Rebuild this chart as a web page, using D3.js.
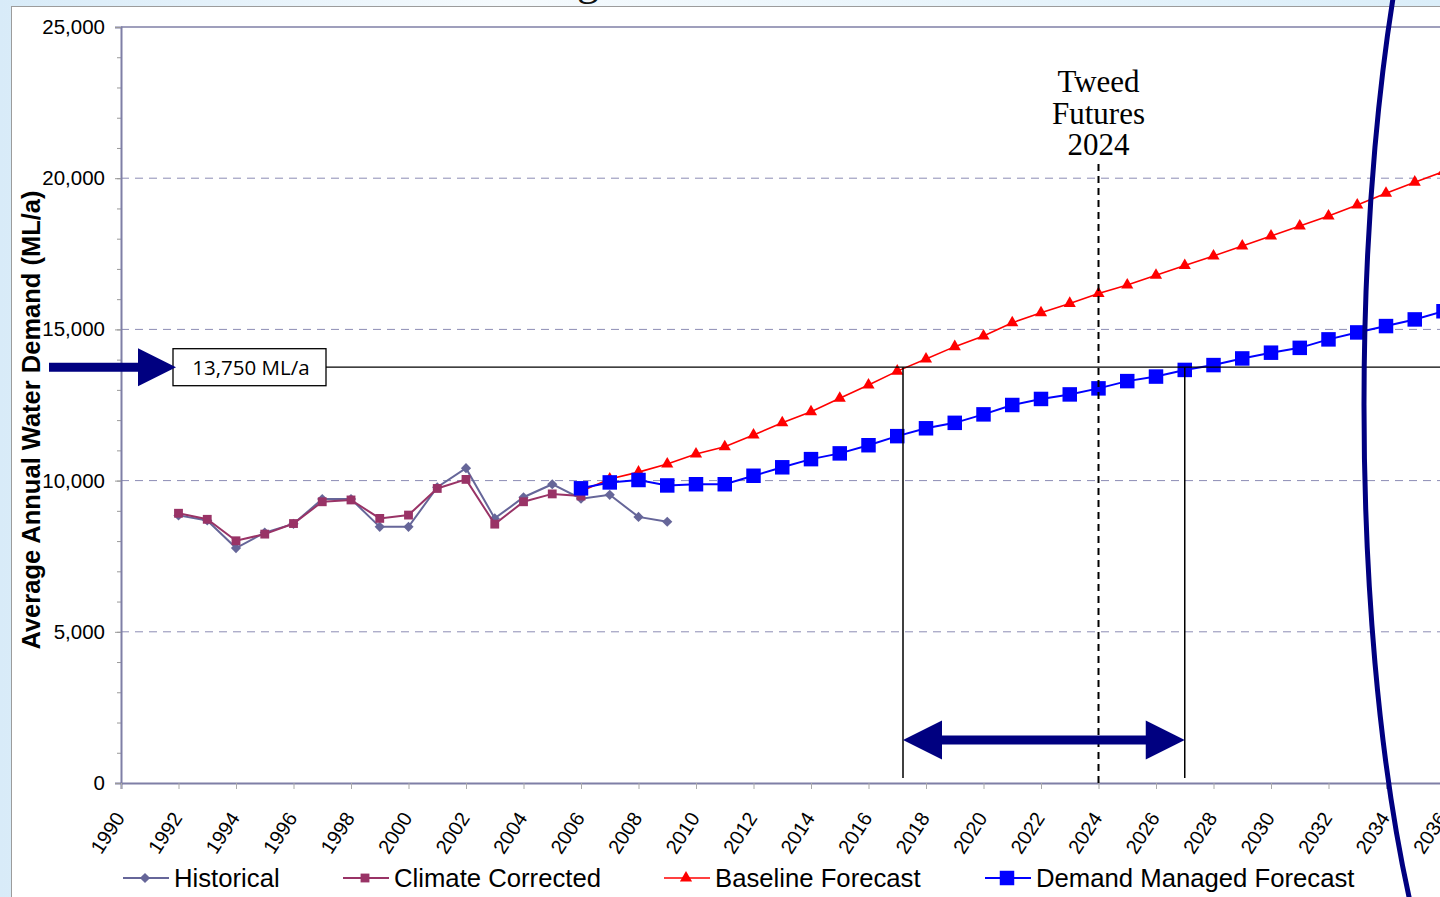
<!DOCTYPE html>
<html>
<head>
<meta charset="utf-8">
<script src="https://cdn.jsdelivr.net/npm/d3@7"></script>
<style>
  html, body { margin: 0; padding: 0; overflow: hidden; background: #fff; }
  #chart { width: 1440px; height: 897px; }
</style>
</head>
<body>
<div id="chart"></div>
<script>
// Values (ML/a)
const histYears = d3.range(1992, 2010);
const historical = [8850, 8680, 7770, 8280, 8570, 9390, 9390, 8470, 8470, 9780,
  10410, 8750, 9450, 9880, 9400, 9530, 8800, 8640];

const climateYears = d3.range(1992, 2007);
const climateCorrected = [8920, 8720, 8010, 8230, 8580, 9300, 9360, 8750, 8860, 9740,
  10040, 8560, 9300, 9560, 9490];

const forecastYears = d3.range(2006, 2037);
const baselineForecast = [9650, 10050, 10280, 10550, 10880, 11120, 11510, 11910, 12280, 12720,
  13160, 13620, 14020, 14430, 14780, 15220, 15550, 15860, 16190, 16470,
  16790, 17110, 17430, 17760, 18090, 18420, 18750, 19110, 19500, 19870, 20220];
const demandManaged = [9745, 9940, 10020, 9840, 9880, 9880, 10160, 10440, 10710, 10900,
  11170, 11470, 11730, 11910, 12190, 12500, 12700, 12850, 13050, 13290,
  13440, 13660, 13820, 14040, 14230, 14390, 14670, 14900, 15110, 15330, 15600];

const xTickYears = d3.range(1990, 2037, 2);
const yMajorTicks = [0, 5000, 10000, 15000, 20000, 25000];
const yMinorTicks = d3.range(0, 25001, 1000);
const seriesNames = ['Historical', 'Climate Corrected', 'Baseline Forecast', 'Demand Managed Forecast'];

const targetDemand = 13750;
const targetLabel = '13,750 ML/a';
const windowYears = [2017.2, 2027]; // forecasts crossing 13,750
const windowLevel = 1420;
const milestoneYear = 2024;
const milestoneText = ['Tweed', 'Futures', '2024'];
const yTitle = 'Average Annual Water Demand (ML/a)';

const size = { width: 1440, height: 897 };
const plot = { left: 121, top: 27, bottom: 783 };
const navy = '#000080';
const axisColor = '#7f7fa6';
const sans = '"Liberation Sans", Arial, sans-serif';

const svg = d3.select('#chart').append('svg')
  .attr('width', size.width)
  .attr('height', size.height);

/*
   Slide background and chart frame
 */
const defs = svg.append('defs');
const bg = defs.append('linearGradient').attr('id', 'slide-bg');
bg.append('stop').attr('offset', '0%').attr('stop-color', '#d8ebf8');
bg.append('stop').attr('offset', '35%').attr('stop-color', '#f5fafd');
bg.append('stop').attr('offset', '100%').attr('stop-color', '#dbeef9');

svg.append('rect').attr('width', size.width).attr('height', size.height).attr('fill', 'url(#slide-bg)');

// bottom of the slide title, cut off by the window
svg.append('text')
  .text('g')
  .attr('x', 577)
  .attr('y', -5)
  .attr('font-family', '"Liberation Serif", serif')
  .attr('font-size', 44)
  .attr('fill', '#111');

svg.append('rect')
  .attr('x', 11.5)
  .attr('y', 6.5)
  .attr('width', 1600)
  .attr('height', 1000)
  .attr('fill', '#fff')
  .attr('stroke', '#9c9c9c');

/*
   Scales
 */
const x = d3.scaleLinear()
  .domain([1990, 2036])
  .range([plot.left, plot.left + 46 * 28.75]);

const y = d3.scaleLinear()
  .domain([0, 25000])
  .range([plot.bottom, plot.top]);

// gridlines
svg.append('g')
  .selectAll('line')
  .data(yMajorTicks.filter((d) => d > 0 && d < 25000))
  .enter()
  .append('line')
  .attr('x1', plot.left)
  .attr('x2', size.width)
  .attr('y1', (d) => y(d))
  .attr('y2', (d) => y(d))
  .attr('stroke', '#8c8cb4')
  .attr('stroke-dasharray', '8,6');

// plot area top border
svg.append('line')
  .attr('x1', plot.left)
  .attr('x2', size.width)
  .attr('y1', y(25000))
  .attr('y2', y(25000))
  .attr('stroke', axisColor)
  .attr('stroke-width', 1.5);

// y axis
svg.append('g')
  .attr('transform', `translate(${plot.left},0)`)
  .call(d3.axisLeft(y).tickValues(yMinorTicks).tickSize(4).tickFormat(''))
  .call((g) => g.select('.domain').remove())
  .call((g) => g.selectAll('line').attr('stroke', '#999'));

const yAxis = svg.append('g')
  .attr('transform', `translate(${plot.left},0)`)
  .call(d3.axisLeft(y).tickValues(yMajorTicks).tickSize(6).tickPadding(10).tickFormat(d3.format(',')));
yAxis.select('.domain').attr('stroke', axisColor).attr('stroke-width', 2);
yAxis.selectAll('line').attr('stroke', '#999');
yAxis.selectAll('text')
  .attr('font-family', sans)
  .attr('font-size', 20.5)
  .attr('fill', '#000');

svg.append('text')
  .text(yTitle)
  .attr('transform', `translate(40, ${(185 + 655) / 2}) rotate(-90)`)
  .attr('text-anchor', 'middle')
  .attr('font-family', sans)
  .attr('font-weight', 'bold')
  .attr('font-size', 25.5)
  .attr('fill', '#000');

// x axis
const xAxis = svg.append('g')
  .attr('transform', `translate(0,${plot.bottom})`)
  .call(d3.axisBottom(x).tickValues(xTickYears).tickSize(6).tickFormat((d) => d));
xAxis.select('.domain').attr('stroke', axisColor).attr('stroke-width', 2);
xAxis.selectAll('line').attr('stroke', '#aaa');
xAxis.selectAll('text')
  .attr('font-family', sans)
  .attr('font-size', 20)
  .attr('fill', '#000')
  .attr('text-anchor', 'end')
  .attr('dy', 0)
  .attr('y', 0)
  .attr('transform', 'translate(4, 35) rotate(-57)');

/*
   Series
 */
const series = [
  { name: seriesNames[0], years: histYears, values: historical, color: '#666699', width: 2,
    symbol: d3.symbolSquare, size: 52, rotate: 45 },
  { name: seriesNames[1], years: climateYears, values: climateCorrected, color: '#993366', width: 2,
    symbol: d3.symbolSquare, size: 78, rotate: 0 },
  { name: seriesNames[2], years: forecastYears, values: baselineForecast, color: '#ff0000', width: 1.6,
    symbol: d3.symbolTriangle, size: 64, rotate: 0 },
  { name: seriesNames[3], years: forecastYears, values: demandManaged, color: '#0000ff', width: 2,
    symbol: d3.symbolSquare, size: 210, rotate: 0 },
];

const line = d3.line()
  .x((d) => x(d.year))
  .y((d) => y(d.value));

series.forEach((s) => {
  const pts = s.years.map((yr, i) => ({ year: yr, value: s.values[i] }));
  const g = svg.append('g');
  g.append('path')
    .datum(pts)
    .attr('d', line)
    .attr('fill', 'none')
    .attr('stroke', s.color)
    .attr('stroke-width', s.width);
  g.selectAll('path.marker')
    .data(pts)
    .enter()
    .append('path')
    .attr('class', 'marker')
    .attr('d', d3.symbol().type(s.symbol).size(s.size))
    .attr('transform', (d) => `translate(${x(d.year)},${y(d.value)}) rotate(${s.rotate})`)
    .attr('fill', s.color);
});

/*
   Annotations
 */
const ann = svg.append('g');
const yT = y(targetDemand);

// 13,750 ML/a target line and box
ann.append('line')
  .attr('x1', 326)
  .attr('x2', size.width)
  .attr('y1', yT)
  .attr('y2', yT)
  .attr('stroke', '#000')
  .attr('stroke-width', 1.3);

ann.append('rect')
  .attr('x', 173)
  .attr('y', yT - 18.5)
  .attr('width', 153)
  .attr('height', 37)
  .attr('fill', '#fff')
  .attr('stroke', '#000')
  .attr('stroke-width', 1.3);

ann.append('text')
  .text(targetLabel)
  .attr('x', 251)
  .attr('y', yT + 8)
  .attr('text-anchor', 'middle')
  .attr('font-family', '"Open Sans", sans-serif')
  .attr('font-size', 20.5)
  .attr('fill', '#000');

ann.append('path')
  .attr('d', `M 49 ${yT - 4.5} H 138 V ${yT - 19} L 176 ${yT} L 138 ${yT + 19} V ${yT + 4.5} H 49 Z`)
  .attr('fill', navy);

// vertical lines where the forecasts reach the target
ann.selectAll('line.cross')
  .data(windowYears)
  .enter()
  .append('line')
  .attr('class', 'cross')
  .attr('x1', (d) => x(d))
  .attr('x2', (d) => x(d))
  .attr('y1', yT)
  .attr('y2', plot.bottom - 5)
  .attr('stroke', '#000')
  .attr('stroke-width', 1.5);

ann.append('line')
  .attr('x1', x(milestoneYear))
  .attr('x2', x(milestoneYear))
  .attr('y1', 164)
  .attr('y2', plot.bottom + 3)
  .attr('stroke', '#000')
  .attr('stroke-width', 2)
  .attr('stroke-dasharray', '7,5');

ann.selectAll('text.milestone')
  .data(milestoneText)
  .enter()
  .append('text')
  .attr('class', 'milestone')
  .text((d) => d)
  .attr('x', x(milestoneYear))
  .attr('y', (d, i) => 92 + i * 31.5)
  .attr('text-anchor', 'middle')
  .attr('font-family', '"Liberation Serif", "DejaVu Serif", serif')
  .attr('font-size', 31)
  .attr('fill', '#000');

// double headed arrow between the two crossing years
const ax0 = x(windowYears[0]);
const ax1 = x(windowYears[1]);
const ay = y(windowLevel);
ann.append('path')
  .attr('d', `M ${ax0} ${ay} L ${ax0 + 39} ${ay - 19.5} V ${ay - 4.5} H ${ax1 - 39} V ${ay - 19.5}
    L ${ax1} ${ay} L ${ax1 - 39} ${ay + 19.5} V ${ay + 4.5} H ${ax0 + 39} V ${ay + 19.5} Z`)
  .attr('fill', navy);

// highlight ellipse on the right
ann.append('ellipse')
  .attr('cx', 1520)
  .attr('cy', 405)
  .attr('rx', 156)
  .attr('ry', 700)
  .attr('fill', 'none')
  .attr('stroke', navy)
  .attr('stroke-width', 5);

/*
   Legend
 */
const legendX = [123, 343, 664, 985];
const legend = svg.append('g').attr('transform', 'translate(0, 878)');
series.forEach((s, i) => {
  const item = legend.append('g').attr('transform', `translate(${legendX[i]},0)`);
  item.append('line')
    .attr('x1', 0)
    .attr('x2', 46)
    .attr('stroke', s.color)
    .attr('stroke-width', s.width);
  item.append('path')
    .attr('d', d3.symbol().type(s.symbol).size(s.size))
    .attr('transform', `translate(22,0) rotate(${s.rotate})`)
    .attr('fill', s.color);
  item.append('text')
    .text(s.name)
    .attr('x', 51)
    .attr('y', 9)
    .attr('font-family', sans)
    .attr('font-size', 25.7)
    .attr('fill', '#000');
});
</script>
</body>
</html>
